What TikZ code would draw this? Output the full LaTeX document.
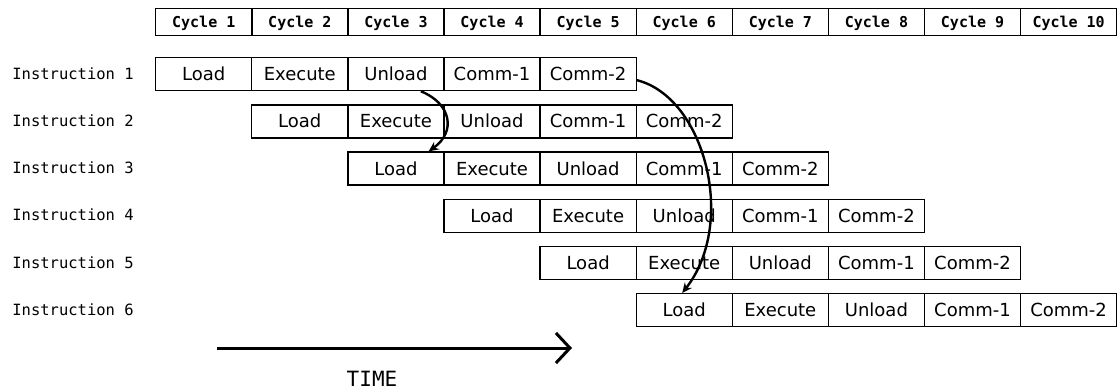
\documentclass[tikz,border=0pt]{standalone}
\usepackage{fontspec}
\setmainfont{DejaVu Sans}
\setmonofont{DejaVu Sans Mono}
\usetikzlibrary{arrows.meta}

\begin{document}
\begin{tikzpicture}[x=1pt,y=-1pt,thick,
    cycle/.style={draw,line width=1.4pt,minimum width=96.1pt,minimum height=27pt,
            inner sep=0pt,anchor=north west,text height=11pt,text depth=0pt,
            font=\ttfamily\bfseries\fontsize{15}{15}\selectfont},
    stage/.style={draw,line width=1.3pt,minimum width=96.1pt,minimum height=33pt,
            inner sep=0pt,anchor=north west,text height=13pt,text depth=0pt,
            font=\fontsize{18}{18}\selectfont},
    instr/.style={anchor=west,inner sep=0pt,font=\ttfamily\fontsize{15.5}{15.5}\selectfont},
    hop/.style={line width=2.4pt,-{Stealth[length=10pt,width=9pt]}}]
    \useasboundingbox (0,0) rectangle (1117,389);
    % cycles
    \foreach \c in {1,...,10}
        \node[cycle] (cyc\c) at ({155+96.1*(\c-1)},8) {Cycle \c};
    % one row per instruction, shifted one cycle each
    \foreach \i in {1,...,6} {
        \node[instr] (lbl\i) at (12,{73.5+47.2*(\i-1)}) {Instruction \i};
        \foreach \txt [count=\j] in {Load,Execute,Unload,Comm-1,Comm-2}
            \node[stage] (s\i\j) at ({155+96.1*(\i+\j-2)},{57+47.2*(\i-1)}) {\txt};
    }
    % dependences
    \draw[hop] ([xshift=25pt]s13.south) .. controls +(30,12) and +(28,-20) .. ([xshift=-16pt]s31.north east);
    \draw[hop] ([yshift=-6pt]s15.east) .. controls +(68,17) and +(55,-70) .. ([xshift=-2pt]s61.north);
    % time axis
    \coordinate (t0) at (217,348);
    \coordinate (t1) at (572,348);
    \draw[line width=3pt,-{Straight Barb[length=14pt,width=30pt]}] (t0) -- (t1);
    \node[anchor=base,inner sep=0pt,font=\ttfamily\fontsize{21}{21}\selectfont] (time) at (372,386) {TIME};
\end{tikzpicture}
\end{document}
